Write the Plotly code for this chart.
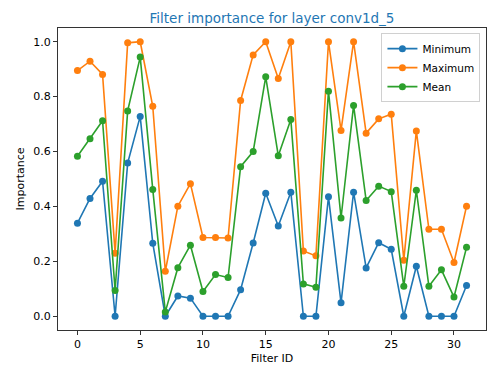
import plotly.graph_objects as go

filter_ids = list(range(32))

minimum = [0.339, 0.429, 0.492, 0.0, 0.558, 0.728, 0.266, 0.0, 0.074, 0.066,
           0.0, 0.0, 0.0, 0.097, 0.267, 0.448, 0.329, 0.452, 0.0, 0.0,
           0.435, 0.049, 0.452, 0.176, 0.268, 0.244, 0.0, 0.182, 0.0, 0.0,
           0.0, 0.112]
maximum = [0.895, 0.929, 0.881, 0.230, 0.996, 1.0, 0.765, 0.164, 0.401, 0.483,
           0.287, 0.287, 0.285, 0.786, 0.952, 1.0, 0.866, 1.0, 0.238, 0.220,
           1.0, 0.677, 1.0, 0.667, 0.719, 0.736, 0.204, 0.675, 0.317, 0.317,
           0.196, 0.401]
mean = [0.583, 0.647, 0.712, 0.094, 0.748, 0.944, 0.462, 0.016, 0.177, 0.259,
        0.090, 0.152, 0.141, 0.545, 0.600, 0.872, 0.585, 0.717, 0.118, 0.106,
        0.820, 0.358, 0.768, 0.422, 0.474, 0.454, 0.109, 0.459, 0.109, 0.169,
        0.070, 0.251]

series = [
    ('Minimum', minimum, '#1f77b4'),
    ('Maximum', maximum, '#ff7f0e'),
    ('Mean', mean, '#2ca02c'),
]

FONT = 'DejaVu Sans, sans-serif'

fig = go.Figure()
for name, values, color in series:
    fig.add_trace(go.Scatter(
        x=filter_ids, y=values, name=name, mode='lines+markers',
        line=dict(color=color, width=1.6),
        marker=dict(color=color, size=7),
    ))

axis_style = dict(
    showgrid=False, zeroline=False, showline=True, mirror=True,
    linecolor='#333333', linewidth=1, ticks='outside', ticklen=4,
    tickcolor='#333333', tickfont=dict(size=11, color='black'),
)

# the page body has an 8px margin, so the figure is a bit smaller than the window
fig.update_layout(
    width=492, height=367,
    paper_bgcolor='white', plot_bgcolor='white',
    font=dict(family=FONT, size=11, color='black'),
    margin=dict(l=44, r=14, t=20, b=45),
    title=dict(text='Filter importance for layer conv1d_5', x=0.5, xref='paper',
               xanchor='center', y=1, yref='paper', yanchor='bottom',
               pad=dict(b=5), font=dict(size=13.5, color='#1f77b4')),
    showlegend=True,
    legend=dict(x=0.987, y=0.983, xanchor='right', yanchor='top',
                bordercolor='#d0d0d0', borderwidth=1, bgcolor='rgba(255,255,255,0.8)',
                font=dict(size=10.5), tracegroupgap=0),
)
fig.update_xaxes(range=[-1.55, 32.55], tickvals=[0, 5, 10, 15, 20, 25, 30],
                 title=dict(text='Filter ID', font=dict(size=11), standoff=4), **axis_style)
fig.update_yaxes(range=[-0.05, 1.05], tickvals=[0, 0.2, 0.4, 0.6, 0.8, 1.0],
                 tickformat='.1f',
                 title=dict(text='Importance', font=dict(size=11), standoff=6), **axis_style)

fig.write_html("out.html")
